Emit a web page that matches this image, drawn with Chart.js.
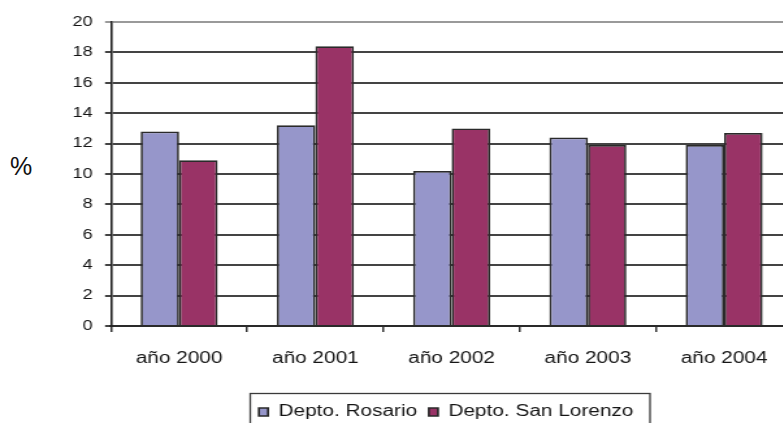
<!DOCTYPE html>
<html>
<head>
<meta charset="utf-8">
<script src="https://cdn.jsdelivr.net/npm/chart.js@4.4.1/dist/chart.umd.min.js"></script>
<style>
  html, body { margin: 0; padding: 0; background: #fff; }
  body { width: 783px; height: 423px; overflow: hidden; position: relative; }
  #pct { position: absolute; left: 10px; top: 152px; font: 25px "Liberation Sans", Arial, sans-serif; color: #111; }
  #wrap { position: absolute; left: 0; top: 0; width: 615px; height: 430px; transform: scaleX(1.3); transform-origin: 0 0; }
  canvas { display: block; }
</style>
</head>
<body>
<div id="pct">%</div>
<div id="wrap"><canvas id="c" width="615" height="430" style="width:615px;height:430px"></canvas></div>
<script>
const categories = ['año 2000', 'año 2001', 'año 2002', 'año 2003', 'año 2004'];
const seriesNames = ['Depto. Rosario', 'Depto. San Lorenzo'];
const rosario = [12.8, 13.2, 10.2, 12.4, 11.9];
const sanLorenzo = [10.9, 18.4, 13.0, 11.9, 12.7];
const yMin = 0, yMax = 20, yStep = 2;

const FONT = '"Liberation Sans", Arial, sans-serif';

const legendShift = {
  id: 'legendShift',
  afterLayout(chart) {
    const lg = chart.legend;
    if (lg) { lg.left += 38.5; lg.right += 38.5; }
  }
};
const legendBorder = {
  id: 'legendBorder',
  afterDraw(chart) {
    const ctx = chart.ctx;
    ctx.save();
    ctx.strokeStyle = '#3a3a3a';
    ctx.lineWidth = 1.3;
    ctx.strokeRect(192.5, 393.5, 307.5, 60);
    ctx.restore();
  }
};

new Chart(document.getElementById('c'), {
  type: 'bar',
  data: {
    labels: categories,
    datasets: [
      { label: seriesNames[0], data: rosario, backgroundColor: '#9696CA', borderColor: '#2a2a2a', borderWidth: 1.7 },
      { label: seriesNames[1], data: sanLorenzo, backgroundColor: '#993366', borderColor: '#2a2a2a', borderWidth: 1.7 }
    ]
  },
  options: {
    responsive: false,
    devicePixelRatio: 1,
    animation: false,
    datasets: { bar: { categoryPercentage: 0.565, barPercentage: 1 } },
    layout: { padding: { top: 22, left: 0, right: 5.6, bottom: 0 } },
    scales: {
      x: {
        grid: { display: true, drawOnChartArea: false, drawTicks: true, tickLength: 6, color: '#333', lineWidth: 1.5, offset: true },
        border: { display: true, color: '#2a2a2a', width: 2 },
        ticks: { font: { family: FONT, size: 16 }, color: '#151515', padding: 17, maxRotation: 0 },
        afterFit(scale) { scale.height = 69; }
      },
      y: {
        min: yMin, max: yMax,
        grid: {
          color: (c) => (c.tick && c.tick.value === yMax) ? '#9a9a9a' : '#444444',
          lineWidth: 2, drawTicks: true, tickLength: 4.6
        },
        border: { display: true, color: '#222', width: 1.6 },
        ticks: { stepSize: yStep, font: { family: FONT, size: 14 }, color: '#151515', padding: 9.6 },
        afterFit(scale) { scale.width = 85.4; }
      }
    },
    plugins: {
      legend: {
        position: 'bottom',
        labels: { font: { family: FONT, size: 16 }, color: '#151515', boxWidth: 7, boxHeight: 8, padding: 9 }
      },
      tooltip: { enabled: false },
      title: { display: false }
    }
  },
  plugins: [legendShift, legendBorder]
});
</script>
</body>
</html>
